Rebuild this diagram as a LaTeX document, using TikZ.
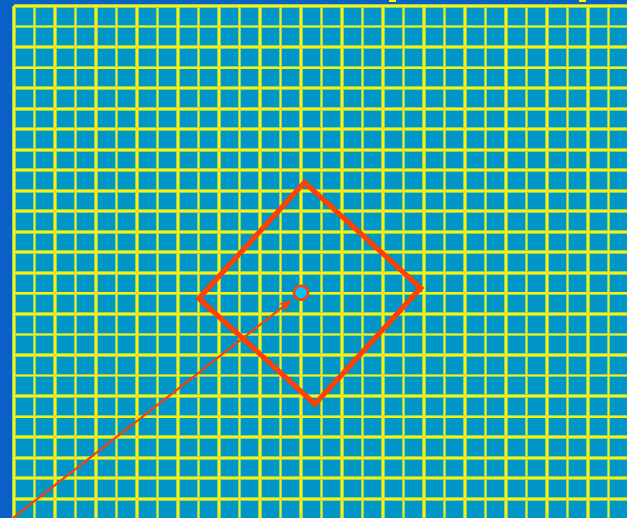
\documentclass[tikz,border=0pt]{standalone}
\usetikzlibrary{arrows.meta}

\definecolor{deepblue}{RGB}{10,95,200}
\definecolor{cellblue}{RGB}{0,150,200}
\definecolor{glow}{RGB}{140,210,110}
\definecolor{markred}{RGB}{255,64,0}
\definecolor{spotcyan}{RGB}{0,195,255}

\begin{document}
\begin{tikzpicture}[
  x=1pt, y=1pt,
  gridhalo/.style={draw=glow, line width=3.8pt},
  gridline/.style={draw=yellow, line width=1.9pt},
  sightbox/.style={rectangle, draw=markred, line width=5pt, minimum size=157pt, inner sep=0pt, rotate=-42.3},
  hotspot/.style={circle, draw=markred, fill=spotcyan, line width=2.5pt, minimum size=14pt, inner sep=0pt},
  arrow/.style={-{Stealth[length=13pt, width=10pt]}, draw=markred, line width=2pt, shorten >=3.5pt}
]
\useasboundingbox (0,0) rectangle (627,518);

% Background and grid
\fill[deepblue] (0,0) rectangle (627,518);
\fill[cellblue] (14,0) rectangle (627,512);
\foreach \i in {0,...,29}
  \draw[gridhalo] ({14+20.5*\i},0) -- ({14+20.5*\i},512);
\foreach \j in {0,...,24}
  \draw[gridhalo] (14,{512-20.53*\j}) -- (627,{512-20.53*\j});
\foreach \i in {0,...,29}
  \draw[gridline] ({14+20.5*\i},0) -- ({14+20.5*\i},512);
\foreach \j in {0,...,24}
  \draw[gridline] (14,{512-20.53*\j}) -- (627,{512-20.53*\j});
\fill[yellow] (389,515.5) rectangle (396,518);
\fill[yellow] (579,515.5) rectangle (586,518);

% Nodes
\node[sightbox] (sight) at (309.75,224.75) {};
\node[hotspot] (spot) at (301,225.3) {};
\coordinate (origin) at (13,0);

% Arrow
\draw[arrow] (origin) -- (spot);

\end{tikzpicture}
\end{document}
